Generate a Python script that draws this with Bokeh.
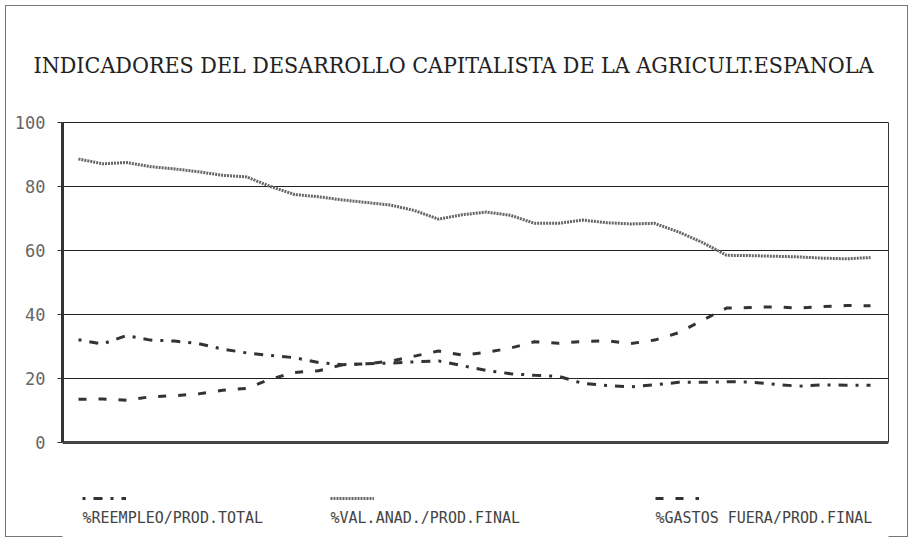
from bokeh.plotting import figure
from bokeh.models import (Range1d, FixedTicker, Legend, LegendItem, Label,
                          LinearAxis, Grid)
from bokeh.embed import file_html
from bokeh.resources import INLINE

# ---------------- data ----------------
title_text = "INDICADORES DEL DESARROLLO CAPITALISTA DE LA AGRICULT.ESPANOLA"
name_reempleo = "%REEMPLEO/PROD.TOTAL"
name_val = "%VAL.ANAD./PROD.FINAL"
name_gastos = "%GASTOS FUERA/PROD.FINAL"
y_ticks = [0, 20, 40, 60, 80, 100]

periodo = [0, 1, 2, 3, 4, 5, 6, 7, 8, 9, 10, 11, 12, 13, 14, 15, 16,
           17, 18, 19, 20, 21, 22, 23, 24, 25, 26, 27, 28, 29, 30, 31, 32, 33]

val_anad = [88.6, 87.1, 87.5, 86.2, 85.5, 84.6, 83.5, 83.0, 80.0, 77.5,
            76.8, 75.8, 75.0, 74.2, 72.5, 69.8, 71.2, 72.0, 71.0, 68.5,
            68.5, 69.5, 68.7, 68.3, 68.5, 65.8, 62.5, 58.5, 58.4, 58.2,
            58.0, 57.6, 57.4, 57.8]

reempleo = [32.1, 30.8, 33.4, 32.0, 31.7, 30.9, 29.2, 28.0, 27.2, 26.5,
            25.0, 24.3, 24.6, 24.8, 25.2, 25.5, 24.0, 22.5, 21.5, 21.0,
            20.7, 18.5, 17.8, 17.4, 18.0, 18.8, 18.8, 19.0, 18.9, 18.2,
            17.6, 18.0, 17.9, 17.9]

gastos = [13.5, 13.6, 13.2, 14.3, 14.6, 15.2, 16.3, 16.9, 19.8, 21.9,
          22.4, 24.3, 24.6, 25.4, 27.0, 28.6, 27.3, 28.2, 29.5, 31.5,
          31.0, 31.6, 31.8, 30.9, 32.0, 34.3, 38.2, 42.0, 42.2, 42.4,
          42.0, 42.5, 42.8, 42.7]

# ---------------- layout constants (pixels) ----------------
FIG_W, FIG_H = 913, 542
FRAME_L, FRAME_R, FRAME_T, FRAME_B = 62, 888, 121, 537
Y0_PX, PX_PER_UNIT = 442, 3.2          # where value 0 sits, vertical scale
X0_PX, PX_PER_STEP = 78, 24             # first point, horizontal step


def dx(px):
    return (px - X0_PX) / PX_PER_STEP


def dy(py):
    return (Y0_PX - py) / PX_PER_UNIT


# ---------------- figure ----------------
p = figure(width=FIG_W, height=FIG_H, title=title_text,
           x_range=Range1d(dx(FRAME_L), dx(FRAME_R)),
           y_range=Range1d(dy(FRAME_B), dy(FRAME_T)),
           output_backend="svg", toolbar_location=None,
           min_border_left=FRAME_L, min_border_right=FIG_W - FRAME_R,
           min_border_top=FRAME_T, min_border_bottom=FIG_H - FRAME_B)
p.border_fill_color = None
p.styles = {"box-shadow": "inset 0 0 0 5px #fff, inset 0 0 0 6px #777",
            "background-color": "white"}

p.title.align = "left"
p.title.offset = -29
p.title.standoff = 87
p.title.text_font = "DejaVu Serif Condensed"
p.title.text_font_size = "23px"
p.title.text_font_style = "normal"
p.title.text_color = "#222"

p.outline_line_color = None
p.xaxis.visible = False

p.xgrid.visible = False
p.ygrid.ticker = FixedTicker(ticks=y_ticks[1:])
p.ygrid.grid_line_color = "#222"
p.ygrid.grid_line_width = 1

base = Grid(dimension=1, ticker=FixedTicker(ticks=[0]),
            grid_line_color="#444", grid_line_width=3)
p.add_layout(base)

p.yaxis.ticker = FixedTicker(ticks=y_ticks)
p.yaxis.bounds = (0, 100)
p.yaxis.axis_line_width = 3
p.yaxis.axis_line_color = "#333"
p.yaxis.major_tick_in = 0
p.yaxis.major_tick_out = 5
p.yaxis.major_tick_line_color = "#333"
p.yaxis.minor_tick_line_color = None
p.yaxis.major_label_text_font = "DejaVu Sans Mono"
p.yaxis.major_label_text_font_size = "17px"
p.yaxis.major_label_text_color = "#666"
p.yaxis.major_label_standoff = 12

right_axis = LinearAxis(bounds=(0, 100), ticker=FixedTicker(ticks=[]),
                        axis_line_color="#333", axis_line_width=1,
                        major_tick_line_color=None, minor_tick_line_color=None)
p.add_layout(right_axis, "right")

VAL_STYLE = dict(line_color="#666", line_width=3, line_dash="2 1")
REE_STYLE = dict(line_color="#333", line_width=3, line_dash="3 8 9 8")
GAS_STYLE = dict(line_color="#333", line_width=3, line_dash="8 12")

r_val = p.line(periodo, val_anad, **VAL_STYLE)
r_ree = p.line(periodo, reempleo, **REE_STYLE)
r_gas = p.line(periodo, gastos, **GAS_STYLE)

# ---------------- legend: sample above its text ----------------
legend_entries = [(name_reempleo, r_ree, 82), (name_val, r_val, 330),
                  (name_gastos, r_gas, 655)]
for name, r, px in legend_entries:
    leg = Legend(items=[LegendItem(label="", renderers=[r])],
                 location=(px - FRAME_L, FRAME_B - 504), orientation="horizontal",
                 background_fill_alpha=0, border_line_color=None,
                 padding=0, margin=0, glyph_width=44, glyph_height=12,
                 label_width=0, label_standoff=0, label_text_font_size="1px")
    p.add_layout(leg, "center")
    p.add_layout(Label(x=dx(px), y=dy(517), text=name,
                       text_font="DejaVu Sans Mono", text_font_size="15px",
                       text_color="#444", text_baseline="middle"))

open("out.html", "w").write(file_html(p, INLINE))
